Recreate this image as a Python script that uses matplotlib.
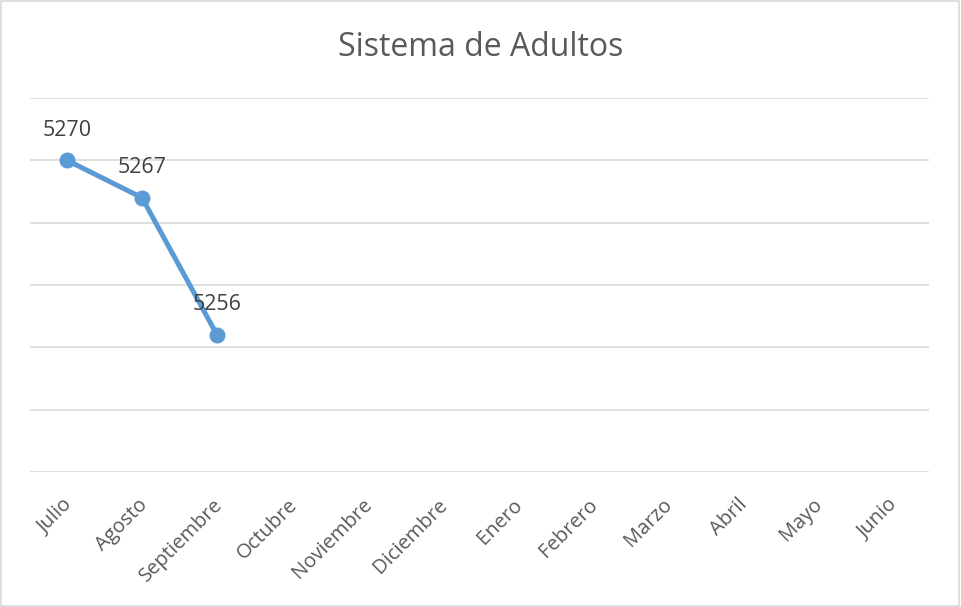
import matplotlib
matplotlib.use("Agg")
import matplotlib.pyplot as plt
from matplotlib.patches import Rectangle
from matplotlib.transforms import ScaledTranslation

months = ["Julio", "Agosto", "Septiembre", "Octubre", "Noviembre", "Diciembre",
          "Enero", "Febrero", "Marzo", "Abril", "Mayo", "Junio"]
values = [5270, 5267, 5256]
title = "Sistema de Adultos"

plt.rcParams['font.family'] = ['Open Sans', 'DejaVu Sans']
txt = '#595959'
fig = plt.figure(figsize=(9.61, 6.07), dpi=100)
fig.patches.append(Rectangle((0.001, 0.002), 0.997, 0.996, transform=fig.transFigure,
                             fill=False, edgecolor='#d9d9d9', linewidth=1.2))
ax = fig.add_axes([0.0307, 0.2224, 0.9365, 0.6162])
x = list(range(len(months)))
ax.plot(x[:len(values)], values, color='#5b9bd5', linewidth=3.6, marker='o',
        markersize=10.5, solid_capstyle='round', zorder=3)
for xi, v in zip(x, values):
    ax.annotate(str(v), (xi, v), xytext=(0, 14), textcoords='offset points',
                ha='center', va='bottom', fontsize=15.5, color='#404040')
ax.set_xlim(-0.5, len(months) - 0.5)
ax.set_ylim(5245, 5275)
ax.set_yticks(range(5245, 5276, 5))
ax.yaxis.grid(True, color='#d9d9d9', linewidth=1.2)
ax.set_axisbelow(True)
ax.tick_params(axis='y', left=False, labelleft=False)
ax.tick_params(axis='x', length=0, pad=15, labelsize=14.5, labelcolor=txt)
ax.set_xticks(x)
ax.set_xticklabels(months, rotation=45, ha='right', rotation_mode='anchor')
shift = ScaledTranslation(-0.045, -0.02, fig.dpi_scale_trans)
for lab in ax.get_xticklabels():
    lab.set_transform(lab.get_transform() + shift)
for s in ax.spines.values():
    s.set_visible(False)
fig.text(0.5, 0.922, title, ha='center', va='center', fontsize=23, color=txt)
fig.savefig("out.png", dpi=100)
